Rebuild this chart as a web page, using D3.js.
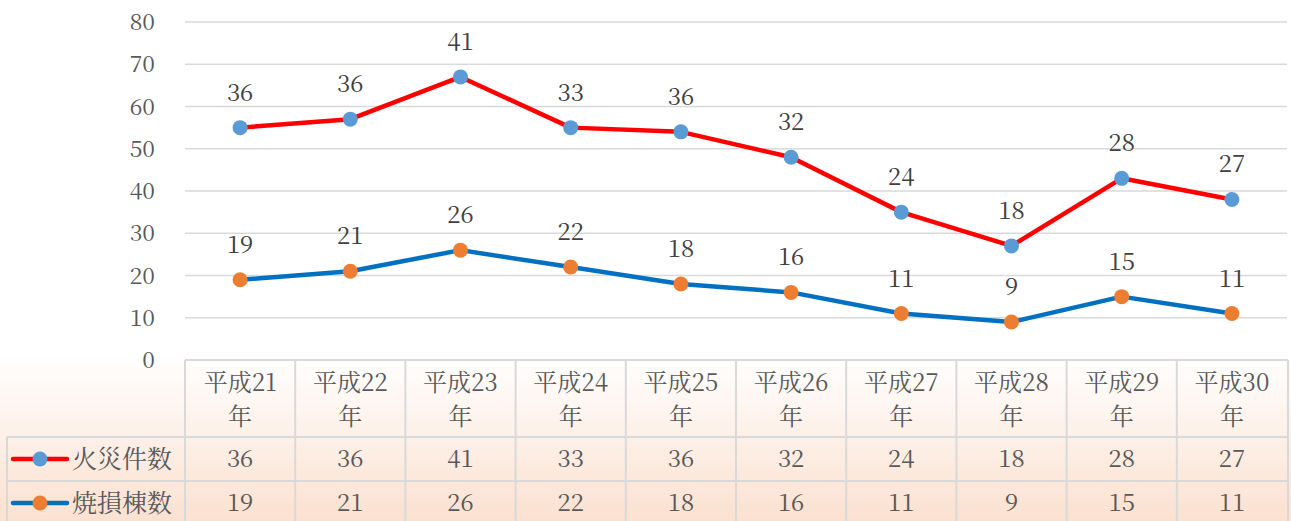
<!DOCTYPE html>
<html>
<head>
<meta charset="utf-8">
<script src="https://cdn.jsdelivr.net/npm/d3@7"></script>
<style>
  body { margin: 0; background: #fff; }
</style>
</head>
<body>
<div class="chart"></div>
<script>
// chart data
var categories = ["平成21年", "平成22年", "平成23年", "平成24年", "平成25年",
                  "平成26年", "平成27年", "平成28年", "平成29年", "平成30年"];
var fireCounts = [36, 36, 41, 33, 36, 32, 24, 18, 28, 27];   // 火災件数
var burnedCounts = [19, 21, 26, 22, 18, 16, 11, 9, 15, 11];  // 焼損棟数
var yTicks = [0, 10, 20, 30, 40, 50, 60, 70, 80];
var seriesNames = ["火災件数", "焼損棟数"];

var FONT = "'Noto Serif CJK JP', 'Liberation Serif', serif";
var svgWidth = 1291, svgHeight = 521;
var plot = { left: 185, right: 1287, top: 22, bottom: 360 };
var rows = { header: 437, row1: 481, row2: 525 };
var legendLeft = 7;

var svg = d3.select(".chart").append("svg")
  .attr("width", svgWidth)
  .attr("height", svgHeight)
  .style("font-family", FONT);

// background gradient (white -> peach toward bottom)
var defs = svg.append("defs");
var grad = defs.append("linearGradient")
  .attr("id", "bg").attr("x1", 0).attr("y1", 0).attr("x2", 0).attr("y2", 1);
grad.append("stop").attr("offset", 0.68).attr("stop-color", "#ffffff");
grad.append("stop").attr("offset", 1).attr("stop-color", "#fbe1d0");
svg.append("rect").attr("width", svgWidth).attr("height", svgHeight).attr("fill", "url(#bg)");

// scales
var x = d3.scaleBand().domain(categories).range([plot.left, plot.right]);
var y = d3.scaleLinear().domain([0, 80]).range([plot.bottom, plot.top]);
var cx = d => x(d) + x.bandwidth() / 2;

// stacked values: 焼損棟数 at the bottom, 火災件数 on top of it
var table = categories.map((c, i) => ({ cat: c, fire: fireCounts[i], burned: burnedCounts[i] }));
var stacked = d3.stack().keys(["burned", "fire"])(table);

// gridlines
svg.append("g").selectAll("line")
  .data(yTicks)
  .enter().append("line")
  .attr("x1", plot.left).attr("x2", plot.right)
  .attr("y1", d => y(d)).attr("y2", d => y(d))
  .attr("stroke", "#d9d9d9").attr("stroke-width", 1.5);

// y axis labels
svg.append("g").selectAll("text")
  .data(yTicks)
  .enter().append("text")
  .attr("x", 155)
  .attr("y", d => y(d) + 8)
  .attr("text-anchor", "end")
  .attr("font-size", "23px")
  .attr("fill", "#595959")
  .text(d => d);

var series = [
  { name: seriesNames[0], layer: stacked[1], raw: fireCounts, line: "#ff0000", marker: "#5b9bd5" },
  { name: seriesNames[1], layer: stacked[0], raw: burnedCounts, line: "#0070c0", marker: "#ed7d31" }
];

var lineGen = d3.line()
  .x(d => cx(d.data.cat))
  .y(d => y(d[1]));

series.forEach(function (s) {
  svg.append("path")
    .datum(s.layer)
    .attr("d", lineGen)
    .attr("fill", "none")
    .attr("stroke", s.line)
    .attr("stroke-width", 4.5)
    .attr("stroke-linejoin", "round")
    .attr("stroke-linecap", "round");

  svg.append("g").selectAll("circle")
    .data(s.layer)
    .enter().append("circle")
    .attr("cx", d => cx(d.data.cat))
    .attr("cy", d => y(d[1]))
    .attr("r", 7.5)
    .attr("fill", s.marker);

  // data labels show the raw (unstacked) values
  svg.append("g").selectAll("text")
    .data(s.layer)
    .enter().append("text")
    .attr("x", d => cx(d.data.cat))
    .attr("y", d => y(d[1]) - 27)
    .attr("text-anchor", "middle")
    .attr("font-size", "24px")
    .attr("fill", "#404040")
    .text((d, i) => s.raw[i]);
});

// data table
var border = "#d9d9d9";
var tbl = svg.append("g");

// horizontal lines
tbl.append("line").attr("x1", plot.left).attr("x2", plot.right + 1)
  .attr("y1", plot.bottom).attr("y2", plot.bottom);
[rows.header, rows.row1, rows.row2].forEach(function (ry) {
  tbl.append("line").attr("x1", legendLeft).attr("x2", plot.right + 1)
    .attr("y1", ry).attr("y2", ry);
});
// vertical lines
var edges = categories.map(c => x(c)).concat([plot.right + 1]);
tbl.selectAll("line.v")
  .data(edges)
  .enter().append("line")
  .attr("class", "v")
  .attr("x1", d => d).attr("x2", d => d)
  .attr("y1", plot.bottom).attr("y2", rows.row2);
tbl.append("line").attr("x1", legendLeft).attr("x2", legendLeft)
  .attr("y1", rows.header).attr("y2", rows.row2);
tbl.selectAll("line").attr("stroke", border).attr("stroke-width", 2);

// header text (two lines)
var header = svg.append("g").selectAll("text")
  .data(categories)
  .enter().append("text")
  .attr("text-anchor", "middle")
  .attr("font-size", "24px")
  .attr("fill", "#595959");
header.append("tspan")
  .attr("x", d => cx(d)).attr("y", 391)
  .text(d => d.slice(0, -1));
header.append("tspan")
  .attr("x", d => cx(d)).attr("y", 425)
  .text(d => d.slice(-1));

// value rows + legend keys
var rowCenters = [459, 503];
series.forEach(function (s, k) {
  var rc = rowCenters[k];
  svg.append("g").selectAll("text")
    .data(s.raw)
    .enter().append("text")
    .attr("x", (d, i) => cx(categories[i]))
    .attr("y", rc + 8)
    .attr("text-anchor", "middle")
    .attr("font-size", "24px")
    .attr("fill", "#595959")
    .text(d => d);

  svg.append("line")
    .attr("x1", 13).attr("x2", 67)
    .attr("y1", rc).attr("y2", rc)
    .attr("stroke", s.line).attr("stroke-width", 4.5)
    .attr("stroke-linecap", "round");
  svg.append("circle")
    .attr("cx", 40).attr("cy", rc).attr("r", 7.5)
    .attr("fill", s.marker);
  svg.append("text")
    .attr("x", 72).attr("y", rc + 9)
    .attr("font-size", "25px")
    .attr("fill", "#595959")
    .text(s.name);
});
</script>
</body>
</html>
